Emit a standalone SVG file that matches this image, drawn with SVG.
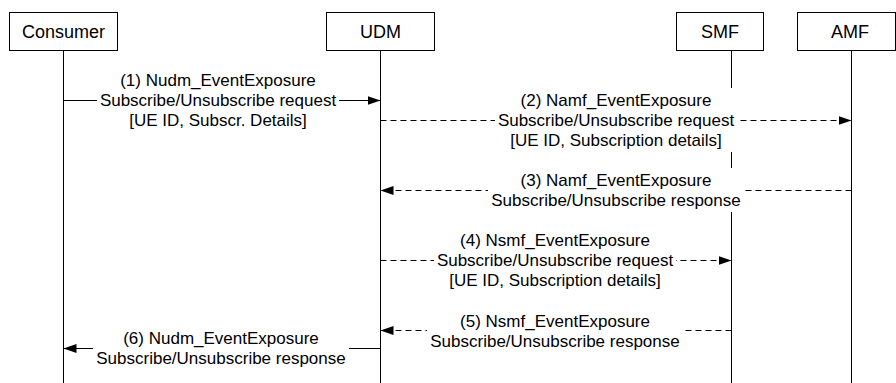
<svg xmlns="http://www.w3.org/2000/svg" width="896" height="383" viewBox="0 0 896 383">
<style>
  .box { fill: #fff; stroke: #000; stroke-width: 1; }
  .life { stroke: #000; stroke-width: 1; fill: none; }
  .name { font-family: "Liberation Sans", Arial, sans-serif; font-size: 18px; text-anchor: middle; fill: #000; }
  .lbl { font-family: "Liberation Sans", Arial, sans-serif; font-size: 17px; text-anchor: middle; fill: #000; }
  .msg { stroke: #000; stroke-width: 1; fill: none; marker-end: url(#arrow); }
  .dash { stroke-dasharray: 6 4; }
  .mask { fill: #fff; stroke: none; }
</style>
<defs>
  <marker id="arrow" markerUnits="userSpaceOnUse" markerWidth="14" markerHeight="10" refX="13" refY="4.5" orient="auto">
    <path d="M0,0 L13,4.5 L0,9 z" fill="#000" stroke="none"/>
  </marker>
</defs>
<rect width="896" height="383" fill="#fff"/>

<g id="consumer">
  <line class="life" x1="63.5" y1="50" x2="63.5" y2="383"/>
  <rect class="box" x="9.5" y="12.5" width="108" height="38"/>
  <text class="name" x="63.5" y="37.5">Consumer</text>
</g>
<g id="udm">
  <line class="life" x1="380.5" y1="50" x2="380.5" y2="383"/>
  <rect class="box" x="326.5" y="12.5" width="108" height="38"/>
  <text class="name" x="380.5" y="37.5">UDM</text>
</g>
<g id="smf">
  <line class="life" x1="731.5" y1="50" x2="731.5" y2="383"/>
  <rect class="box" x="676.5" y="12.5" width="87" height="38"/>
  <text class="name" x="720" y="37.5">SMF</text>
</g>
<g id="amf">
  <line class="life" x1="851.5" y1="50" x2="851.5" y2="383"/>
  <rect class="box" x="797.5" y="12.5" width="98" height="38"/>
  <text class="name" x="850" y="37.5">AMF</text>
</g>

<g id="connectors">
  <g id="msg1">
    <line class="msg" x1="63.5" y1="100.5" x2="380.5" y2="100.5"/>
    <rect class="mask" x="97" y="68" width="242" height="64"/>
    <text class="lbl" x="218" y="86">(1) Nudm_EventExposure</text>
    <text class="lbl" x="218" y="106">Subscribe/Unsubscribe request</text>
    <text class="lbl" x="218" y="126">[UE ID, Subscr. Details]</text>
  </g>
  <g id="msg2">
    <line class="msg dash" x1="380.5" y1="120.5" x2="851.5" y2="120.5"/>
    <rect class="mask" x="495" y="88" width="242" height="64"/>
    <text class="lbl" x="616" y="106">(2) Namf_EventExposure</text>
    <text class="lbl" x="616" y="126">Subscribe/Unsubscribe request</text>
    <text class="lbl" x="616" y="146">[UE ID, Subscription details]</text>
  </g>
  <g id="msg3">
    <line class="msg dash" x1="851.5" y1="190.5" x2="380.5" y2="190.5"/>
    <rect class="mask" x="488" y="168" width="256" height="44"/>
    <text class="lbl" x="616" y="186">(3) Namf_EventExposure</text>
    <text class="lbl" x="616" y="206">Subscribe/Unsubscribe response</text>
  </g>
  <g id="msg4">
    <line class="msg dash" x1="380.5" y1="260.5" x2="731.5" y2="260.5"/>
    <rect class="mask" x="434" y="228" width="242" height="64"/>
    <text class="lbl" x="555" y="246">(4) Nsmf_EventExposure</text>
    <text class="lbl" x="555" y="266">Subscribe/Unsubscribe request</text>
    <text class="lbl" x="555" y="286">[UE ID, Subscription details]</text>
  </g>
  <g id="msg5">
    <line class="msg dash" x1="731.5" y1="330.5" x2="380.5" y2="330.5"/>
    <rect class="mask" x="427" y="309" width="256" height="44"/>
    <text class="lbl" x="555" y="327">(5) Nsmf_EventExposure</text>
    <text class="lbl" x="555" y="347">Subscribe/Unsubscribe response</text>
  </g>
  <g id="msg6">
    <line class="msg" x1="380.5" y1="348.5" x2="63.5" y2="348.5"/>
    <rect class="mask" x="93" y="326" width="256" height="44"/>
    <text class="lbl" x="221" y="344">(6) Nudm_EventExposure</text>
    <text class="lbl" x="221" y="364">Subscribe/Unsubscribe response</text>
  </g>
</g>
</svg>
